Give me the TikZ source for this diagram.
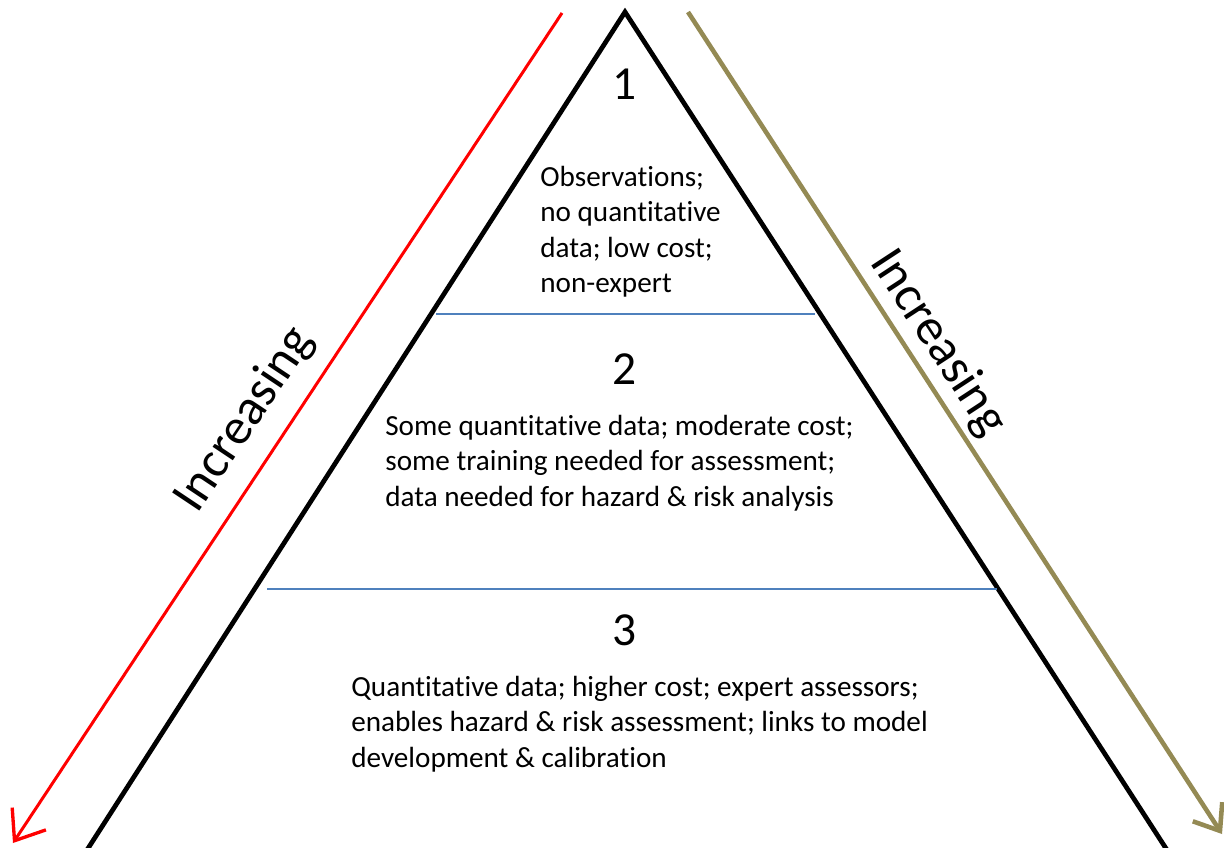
\documentclass[tikz,border=0pt]{standalone}
\usepackage{fontspec}
\setmainfont{Carlito}[Ligatures=NoCommon]
\usepackage{xcolor}
\usetikzlibrary{positioning, arrows.meta}
\definecolor{tierblue}{HTML}{4F81BD}
\definecolor{olivearrow}{HTML}{948A54}

\begin{document}
\begin{tikzpicture}[x=0.02cm, y=-0.02cm,
    tierline/.style={draw=tierblue, line width=1.2pt},
    tiernum/.style={font=\fontsize{27}{32}\selectfont, inner sep=0pt},
    tiertext/.style={font=\fontsize{16.6}{20.1}\selectfont, align=left, inner sep=0pt, anchor=north west},
    sidelabel/.style={font=\fontsize{29}{34}\selectfont, inner sep=0pt}]
  \useasboundingbox (0,0) rectangle (1224,848);

  % corners of the pyramid
  \coordinate (top) at (625,12);
  \coordinate (botleft) at (87,850);
  \coordinate (botright) at (1167,850);
  \draw[line width=2.7pt, line join=miter] (botleft) -- (top) -- (botright);
  \draw[line width=1.2pt] (botleft) -- (botright);

  % tier borders
  \coordinate (cutAl) at (436,314);
  \coordinate (cutAr) at (815,314);
  \coordinate (cutBl) at (267,589);
  \coordinate (cutBr) at (997,589);
  \draw[tierline] (cutAl) -- (cutAr);
  \draw[tierline] (cutBl) -- (cutBr);

  % numbers
  \node[tiernum] (one) at (625,84) {1};
  \node[tiernum] (two) at (625,369) {2};
  \node[tiernum] (three) at (625,630) {3};

  % descriptions
  \node[tiertext] (descone) at (540,166) {Observations;\\no quantitative\\data; low cost;\\non-expert};
  \node[tiertext] (desctwo) at (385,415) {Some quantitative data; moderate cost;\\some training needed for assessment;\\data needed for hazard \& risk analysis};
  \node[tiertext] (descthree) at (351,676) {Quantitative data; higher cost; expert assessors;\\enables hazard \& risk assessment; links to model\\development \& calibration};

  % side arrows
  \coordinate (redstart) at (562,13);
  \coordinate (redend) at (13,843);
  \coordinate (olivestart) at (688,12);
  \coordinate (oliveend) at (1222,834);
  \draw[red, line width=1.7pt, -{Straight Barb[length=15pt, width=23pt, line width=1.9pt]}] (redstart) -- (redend);
  \draw[olivearrow, line width=2.6pt, -{Straight Barb[length=13pt, width=20pt, line width=2.6pt]}] (olivestart) -- (oliveend);

  \node[sidelabel, rotate=56.3] (leftlabel) at (245,420) {Increasing};
  \node[sidelabel, rotate=-56.8] (rightlabel) at (938,343) {Increasing};
\end{tikzpicture}
\end{document}
